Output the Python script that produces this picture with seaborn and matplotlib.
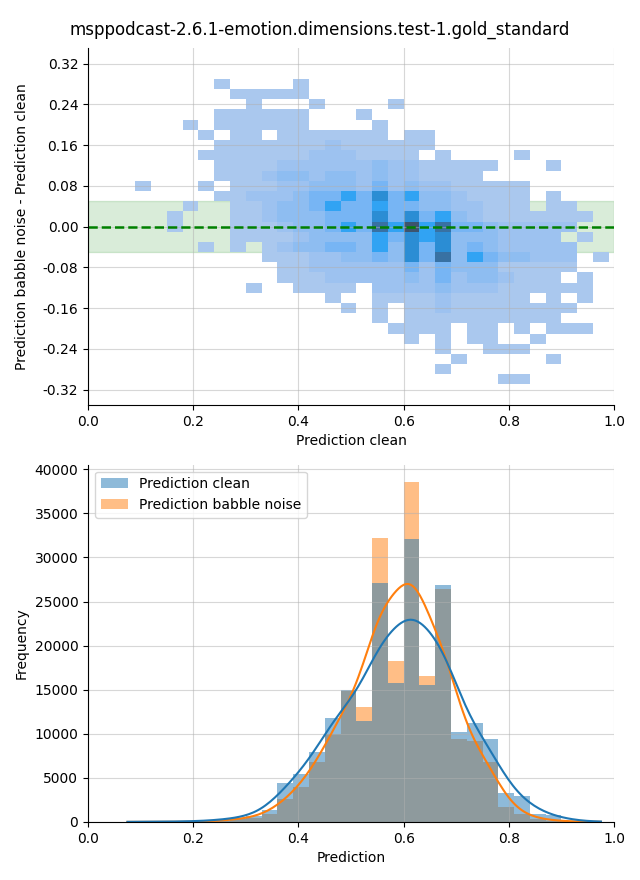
import numpy as np
import pandas as pd
import matplotlib
matplotlib.use("Agg")
import matplotlib.pyplot as plt
import seaborn as sns

titulo = "msppodcast-2.6.1-emotion.dimensions.test-1.gold_standard"

# Bordes de los bins del histograma 2D (x: prediccion clean, y: diferencia)
x_edges = np.round(np.arange(0.09, 0.99 + 1e-9, 0.03), 2)
y_edges = np.round(np.arange(-0.31, 0.29 + 1e-9, 0.02), 2)

# Nivel de intensidad por celda, filas de arriba (0.28) hacia abajo (-0.30)
filas_niveles = [
    "000001000010000000000000000000",
    "000000111110000000000000000000",
    "000000010001000010000000000000",
    "000001111110001000000000000000",
    "000101111110000100000000000000",
    "000010110111111101100000000000",
    "000001111111211111100000000000",
    "000011111112221111010000100000",
    "000001111222222322111110001000",
    "000001112332332322111100000000",
    "100010111223332423221111100000",
    "000001122234454645332111101000",
    "000100112334544544332211101100",
    "001000112333444646453211111110",
    "001000111233454758574432222200",
    "000000111123333546563332222010",
    "000010101233443536463432222200",
    "000000001112233436473543322201",
    "000000000112222224243331111100",
    "000000000111222223242332111010",
    "000000010011110222232221111110",
    "000000000000100111121111101010",
    "000000000000010101121111111100",
    "000000000000000101111111111000",
    "000000000000000011110110101110",
    "000000000000000001010110010000",
    "000000000000000000010011100000",
    "000000000000000000001000001000",
    "000000000000000000010000000000",
    "000000000000000000000001100000",
]
# Conteo aproximado que corresponde a cada nivel
conteo_nivel = [0, 1, 6, 11, 18, 35, 52, 75, 100]

# Histograma de predicciones (bins de 0.03)
series = ["Prediction clean", "Prediction babble noise"]
h_edges = np.round(np.arange(0.06, 0.99 + 1e-9, 0.03), 2)
conteo_clean = [10, 20, 30, 40, 60, 100, 250, 450, 700, 1300,
                4400, 5450, 7950, 11800, 14950, 11450, 27100, 15800, 32100, 15500,
                26900, 10200, 11200, 9400, 3300, 2950, 900, 800, 150, 60, 20]
conteo_babble = [0, 0, 0, 5, 10, 30, 150, 300, 500, 900,
                 2600, 3980, 6820, 10000, 14800, 13000, 32200, 18300, 38600, 16500,
                 26400, 9400, 9200, 6800, 1700, 900, 300, 150, 50, 20, 5]


def tabla_celdas():
    # Pasar la matriz de niveles a una tabla larga con pesos
    xc = (x_edges[:-1] + x_edges[1:]) / 2
    yc = ((y_edges[:-1] + y_edges[1:]) / 2)[::-1]
    filas = []
    for i, fila in enumerate(filas_niveles):
        for j, ch in enumerate(fila):
            n = conteo_nivel[int(ch)]
            if n > 0:
                filas.append((xc[j], yc[i], n))
    return pd.DataFrame(filas, columns=["clean", "diff", "n"])


def tabla_histograma():
    centros = (h_edges[:-1] + h_edges[1:]) / 2
    partes = []
    for nombre, conteo in zip(series, [conteo_clean, conteo_babble]):
        partes.append(pd.DataFrame({"pred": centros, "n": conteo, "serie": nombre}))
    df = pd.concat(partes, ignore_index=True)
    return df[df["n"] > 0]


def graficar_diferencia(ax):
    df = tabla_celdas()
    # Banda de tolerancia y linea de referencia en cero
    ax.axhspan(-0.05, 0.05, color="green", alpha=0.15, zorder=0)
    sns.histplot(data=df, x="clean", y="diff", weights="n",
                 bins=[x_edges.tolist(), y_edges.tolist()], ax=ax)
    ax.axhline(0, color="green", linestyle="--", linewidth=1.8)
    ax.set_xlim(0, 1)
    ax.set_ylim(-0.35, 0.35)
    ax.set_yticks(np.linspace(-0.32, 0.32, 9))
    ax.yaxis.set_major_formatter(matplotlib.ticker.FormatStrFormatter("%.2f"))
    ax.set_xlabel("Prediction clean")
    ax.set_ylabel("Prediction babble noise - Prediction clean", labelpad=10)
    ax.grid(alpha=0.5)
    sns.despine(ax=ax)


def graficar_histogramas(ax):
    df = tabla_histograma()
    # La primera serie queda encima (capas de seaborn)
    sns.histplot(data=df, x="pred", weights="n", hue="serie", hue_order=series,
                 bins=h_edges.tolist(), kde=True, linewidth=0,
                 kde_kws={"bw_adjust": 0.5}, ax=ax)
    ax.set_xlim(0, 1)
    ax.set_xlabel("Prediction")
    ax.set_ylabel("Frequency")
    sns.move_legend(ax, "upper left", title=None)
    ax.grid(alpha=0.5)
    sns.despine(ax=ax)


def main():
    fig = plt.figure(figsize=(6.4, 8.8), dpi=100)
    ax1 = fig.add_axes([0.1375, 0.540, 0.822, 0.405])
    ax2 = fig.add_axes([0.1375, 0.066, 0.822, 0.406])
    graficar_diferencia(ax1)
    graficar_histogramas(ax2)
    fig.suptitle(titulo, fontsize=12, y=0.977)
    fig.savefig("out.png", dpi=100)


if __name__ == "__main__":
    main()
